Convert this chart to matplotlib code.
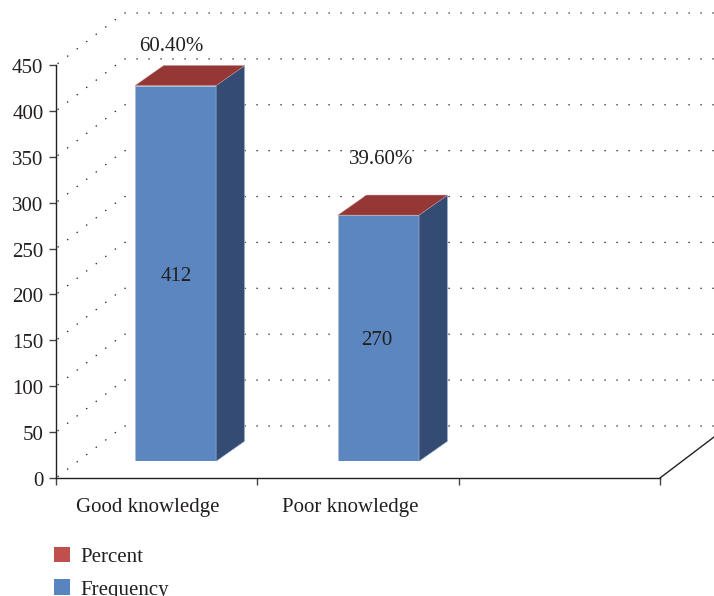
import matplotlib
matplotlib.use("Agg")
import matplotlib.pyplot as plt
from matplotlib.patches import Patch
from matplotlib.transforms import ScaledTranslation

plt.rcParams['font.family'] = ['Liberation Serif', 'DejaVu Serif']

# ---- data ----
categories = ["Good knowledge", "Poor knowledge"]
frequency = [412, 270]
percent = [60.40, 39.60]
y_ticks = [0, 50, 100, 150, 200, 250, 300, 350, 400, 450]
series_names = ["Percent", "Frequency"]

# ---- style / layout (pixels on a 714x596 canvas) ----
W, H = 714, 596
LEFT, RIGHT, BASE, TOP = 56, 660, 478, 65
BAR_BASE, BAR_SCALE = 461.3, 0.912
FS = 15.0
TXT = '#231f20'
FRONT, SIDE, ROOF = '#5b86bf', '#344b73', '#953735'
LEG_COLORS = ['#c0504d', '#5885c0']

fig = plt.figure(figsize=(W / 100, H / 100), dpi=100, facecolor='white')

def box(l, r, bottom, top):
    return [l / W, 1 - bottom / H, (r - l) / W, (bottom - top) / H]

ax = fig.add_axes(box(LEFT, RIGHT, BASE, TOP))
ax.set_xlim(0, 3)
ax.set_ylim(0, 450)
for s in ('top', 'right'):
    ax.spines[s].set_visible(False)
for s in ('left', 'bottom'):
    ax.spines[s].set_color('#222222')
    ax.spines[s].set_linewidth(1.0)

# depth of the floor/wall in data units
px_x = 3 / (RIGHT - LEFT)
px_y = 450 / (BASE - TOP)
wall_dx, wall_dy = 68 * px_x, 52 * px_y
far_right = (W + 6 - LEFT) * px_x

for t in y_ticks:
    ax.plot([0, wall_dx, far_right], [t, t + wall_dy, t + wall_dy],
            color='#222222', lw=0.9, linestyle=(8.0, (1.1, 8.5)),
            clip_on=False, zorder=1, solid_capstyle='butt')
# floor edge on the right
ax.plot([3, 3 + 54 * px_x], [0, 41 * px_y], color='#222222', lw=1.0, clip_on=False, zorder=2)

ax.set_yticks(y_ticks)
ax.set_xticks([0, 1, 2, 3])
ax.set_xticklabels([])
ax.tick_params(axis='both', which='major', length=5, width=1.0, color='#444444',
               labelsize=FS, labelcolor=TXT)
ax.tick_params(axis='y', pad=4.0)
label_pos = [0.457, 1.46]
ax.set_xticks(label_pos, minor=True)
ax.set_xticklabels(categories, minor=True, fontsize=FS, color=TXT)
ax.tick_params(axis='x', which='minor', length=0, pad=14.2)

# nudge the value labels one pixel down
nudge = ScaledTranslation(0, -1 / 100, fig.dpi_scale_trans)
for lab in ax.get_yticklabels():
    lab.set_transform(lab.get_transform() + nudge)

# bars sit on the floor, in their own overlay axes
bx = fig.add_axes(box(LEFT, RIGHT, BAR_BASE, BAR_BASE - 450 * BAR_SCALE), sharex=None)
bx.set_xlim(0, 3)
bx.set_ylim(0, 450)
bx.axis('off')
bx.patch.set_alpha(0)

pos = [0.594, 1.602]
width = 81 * px_x
dx, dy = 28.5 * px_x, 20 / BAR_SCALE
label_shift = [(-4.5, 39.0), (2.5, 56.0)]
value_shift = [(0.5, -2.0), (-1.2, -1.5)]

bars = bx.bar(pos, frequency, width=width, color=FRONT, edgecolor='#a9bcd8', linewidth=0.5, zorder=3)
for x, v, p, rect, shift, vs in zip(pos, frequency, percent, bars, label_shift, value_shift):
    x0, x1 = x - width / 2, x + width / 2
    bx.fill([x1, x1 + dx, x1 + dx, x1], [0, dy, v + dy, v],
            facecolor=SIDE, edgecolor='#a9bcd8', linewidth=0.4, zorder=3, clip_on=False)
    bx.fill([x0, x1, x1 + dx, x0 + dx], [v, v, v + dy, v + dy],
            facecolor=ROOF, edgecolor='#b98a88', linewidth=0.3, zorder=3, clip_on=False)
    bx.annotate(f"{v}", (x, v / 2), xytext=vs, textcoords='offset points',
                ha='center', va='center', fontsize=FS, color=TXT, zorder=4)
    bx.annotate(f"{p:.2f}%", (x, v), xytext=(shift[0] * 0.72, shift[1] * 0.72),
                textcoords='offset points', ha='center', va='center',
                fontsize=FS, color=TXT, annotation_clip=False, zorder=4)

handles = [Patch(facecolor=c, edgecolor='none') for c in LEG_COLORS]
fig.legend(handles, series_names, loc='lower left',
           bbox_to_anchor=(54 / W, -3.5 / H), bbox_transform=fig.transFigure,
           frameon=False, fontsize=FS, labelcolor=TXT,
           handlelength=16 / (FS * 100 / 72), handleheight=16 / (FS * 100 / 72),
           handletextpad=0.5, labelspacing=0.6, borderpad=0, borderaxespad=0)

fig.savefig('out.png', dpi=100, facecolor='white')
